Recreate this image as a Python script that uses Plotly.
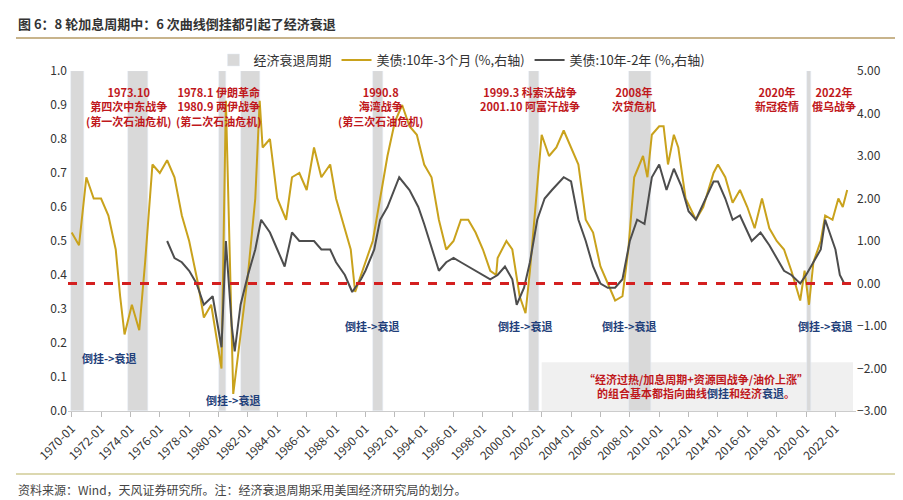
import plotly.graph_objects as go
import pandas as pd

# 10y-3m spread (%), decimal year -> value
t3m = [1970.0,1970.5,1971.0,1971.5,1972.0,1972.5,1973.0,1973.3,1973.6,1974.1,1974.6,1975.0,1975.5,1976.0,1976.5,1977.0,1977.5,1978.0,1978.6,1979.0,1979.5,1980.2,1980.5,1980.9,1981.0,1981.5,1982.0,1982.5,1982.8,1983.0,1983.5,1984.0,1984.6,1985.0,1985.5,1986.0,1986.5,1987.0,1987.6,1988.0,1988.6,1989.0,1989.3,1989.8,1990.0,1990.5,1991.0,1991.5,1992.0,1992.5,1993.0,1993.5,1994.0,1994.5,1995.0,1995.5,1996.0,1996.5,1997.0,1997.5,1998.0,1998.5,1998.9,1999.0,1999.6,2000.0,2000.5,2000.9,2001.2,2001.6,2002.0,2002.5,2003.0,2003.5,2004.0,2004.5,2005.0,2005.5,2006.0,2006.5,2007.0,2007.5,2007.9,2008.3,2008.9,2009.2,2009.5,2010.0,2010.3,2010.6,2011.0,2011.3,2011.8,2012.5,2013.0,2013.7,2014.0,2014.5,2015.0,2015.5,2016.0,2016.5,2017.0,2017.5,2018.0,2018.5,2019.0,2019.6,2019.9,2020.2,2020.5,2021.0,2021.3,2021.8,2022.2,2022.5,2022.8]
v3m = [1.2,0.9,2.5,2.0,2.0,1.6,0.8,-0.3,-1.2,-0.5,-1.1,0.5,2.8,2.6,2.9,2.5,1.6,1.0,0.0,-0.8,-0.5,-2.0,4.3,-1.5,-2.6,-1.2,0.2,2.0,4.3,3.2,3.4,2.0,1.5,2.5,2.6,2.2,3.2,2.5,2.8,2.0,1.3,0.8,-0.2,0.3,0.5,1.0,2.0,3.0,3.8,4.2,3.7,3.5,2.8,2.5,1.5,0.8,1.0,1.5,1.5,1.2,0.8,0.3,0.2,0.6,1.0,0.8,-0.3,-0.7,0.3,2.0,3.5,3.0,3.2,3.6,3.2,2.8,1.5,1.2,0.4,0.0,-0.4,-0.3,0.8,2.5,3.0,2.5,3.5,3.7,3.7,2.8,3.5,3.2,2.0,1.5,1.8,2.6,2.8,2.5,1.9,2.2,1.8,1.3,2.0,1.3,1.0,0.8,0.3,-0.4,0.3,-0.5,0.5,1.0,1.6,1.5,2.0,1.8,2.2]

# 10y-2y spread (%)
t2y = [1976.5,1977.0,1977.5,1978.0,1978.5,1979.0,1979.6,1980.2,1980.5,1980.9,1981.1,1981.5,1982.0,1982.5,1982.9,1983.5,1984.0,1984.5,1985.0,1985.5,1986.5,1987.0,1987.6,1988.0,1988.6,1989.1,1989.7,1990.0,1990.6,1991.0,1991.5,1992.3,1993.0,1993.6,1994.0,1994.7,1995.0,1995.5,1996.0,1996.5,1997.0,1997.5,1998.0,1998.5,1999.0,1999.5,2000.0,2000.3,2000.8,2001.2,2001.7,2002.2,2002.7,2003.5,2004.0,2004.5,2005.0,2005.5,2006.0,2006.5,2007.0,2007.5,2008.0,2008.5,2009.0,2009.5,2010.0,2010.5,2011.0,2011.5,2012.0,2012.5,2013.7,2014.0,2014.5,2015.0,2015.5,2016.3,2016.9,2017.5,2018.0,2018.5,2019.0,2019.6,2020.0,2020.5,2021.0,2021.3,2021.8,2022.0,2022.3,2022.6]
v2y = [1.0,0.6,0.5,0.3,0.0,-0.5,-0.3,-1.5,1.0,-1.0,-1.6,-0.5,0.2,0.8,1.5,1.2,0.8,0.4,1.2,1.0,1.0,0.8,0.8,0.5,0.2,-0.2,0.1,0.3,0.8,1.5,1.8,2.5,2.2,1.8,1.4,0.6,0.3,0.5,0.6,0.5,0.4,0.3,0.2,0.1,0.2,0.4,0.1,-0.5,-0.1,0.5,1.5,2.0,2.2,2.5,2.4,1.5,1.0,0.4,0.0,-0.1,-0.1,0.1,1.0,1.5,1.4,2.5,2.8,2.2,2.7,2.3,1.7,1.5,2.4,2.4,2.0,1.5,1.6,1.0,1.2,0.9,0.6,0.3,0.2,0.0,0.2,0.5,0.8,1.5,1.0,0.8,0.2,0.0]

rec_start = [1969.92,1973.83,1980.0,1981.5,1990.5,2001.17,2007.92,2020.08]
rec_end   = [1970.83,1975.17,1980.5,1982.83,1991.17,2001.83,2009.42,2020.33]

tick_years = list(range(1970, 2023, 2))
xticklabels = [f"{y}-01" for y in tick_years]

W, H = 903, 500
ML, MR, MT, MB = 60, 55, 63, 97
PW, PH = W - ML - MR, H - MT - MB
def px(x): return (x - ML) / PW
def py(y): return (H - MB - y) / PH

def dd(d): return pd.Timestamp(1970,1,1) + pd.Timedelta(days=(d-1970)*365.25)

xticks = [pd.Timestamp(y,1,1) for y in tick_years]
centers, widths = [], []
for s, e in zip(rec_start, rec_end):
    a, b = dd(s), dd(e)
    centers.append(a + (b - a) / 2); widths.append((b - a).total_seconds() * 1000)

fig = go.Figure()
fig.add_trace(go.Bar(x=centers, y=[1.0]*len(centers), width=widths, marker_color="#d9d9d9",
                     name="经济衰退周期", yaxis="y"))
fig.add_trace(go.Scatter(x=[dd(t) for t in t3m], y=v3m, mode="lines", line=dict(color="#c9a21c", width=2),
                         name="美债:10年-3个月 (%,右轴)", yaxis="y2"))
fig.add_trace(go.Scatter(x=[dd(t) for t in t2y], y=v2y, mode="lines", line=dict(color="#4d4d4d", width=2),
                         name="美债:10年-2年 (%,右轴)", yaxis="y2"))

fig.add_shape(type="line", xref="paper", x0=0, x1=1, yref="y2", y0=0, y1=0,
              line=dict(color="#d42020", width=3, dash="dash"))

red = "#c0181c"; navy = "#1f3f7a"
top = [(1973.9, "1973.10<br>第四次中东战争<br>(第一次石油危机)"), (1980.0, "1978.1 伊朗革命<br>1980.9 两伊战争<br>(第二次石油危机)"),
       (1991.0, "1990.8<br>海湾战争<br>(第三次石油危机)"), (2001.2, "1999.3 科索沃战争<br>2001.10 阿富汗战争"),
       (2008.3, "2008年<br>次贷危机"), (2018.0, "2020年<br>新冠疫情"), (2021.9, "2022年<br>俄乌战争")]
for x, t in top:
    fig.add_annotation(x=dd(x), y=4.75, xref="x", yref="y2", text=f"<b>{t}</b>", showarrow=False,
                       font=dict(color=red, size=11), yanchor="top", align="center")
for x, y in [(1972.6, -1.75), (1981.0, -2.75), (1990.5, -1.0), (2000.9, -1.0), (2008.0, -1.0), (2021.3, -1.0)]:
    fig.add_annotation(x=dd(x), y=y, xref="x", yref="y2", text="<b>倒挂->衰退</b>", showarrow=False,
                       font=dict(color=navy, size=11))
fig.add_shape(type="rect", xref="x", yref="y2", x0=dd(2002.0), x1=dd(2023.2), y0=-3.0, y1=-1.85,
              fillcolor="#f0f0f0", line_width=0, layer="below")
fig.add_annotation(x=dd(2012.5), y=-2.42, xref="x", yref="y2", showarrow=False, align="center",
                   text="<b>“经济过热/加息周期+资源国战争/油价上涨”<br>的组合基本都指向曲线<span style='color:#1f3f7a'>倒挂</span>和经济<span style='color:#1f3f7a'>衰退</span>。</b>",
                   font=dict(color=red, size=11))

fig.add_annotation(x=px(8), y=py(15), xref="paper", yref="paper", xanchor="left", yanchor="middle",
                   text="<b>图 6：8 轮加息周期中：6 次曲线倒挂都引起了经济衰退</b>", showarrow=False,
                   font=dict(size=13, color="#333"))
fig.add_shape(type="line", xref="paper", yref="paper", x0=px(8), x1=px(895), y0=py(30), y1=py(30),
              line=dict(color="#c8b48c", width=2))
fig.add_shape(type="line", xref="paper", yref="paper", x0=px(8), x1=px(895), y0=py(466), y1=py(466),
              line=dict(color="#dcd8b0", width=2))
fig.add_annotation(x=px(8), y=py(481), xref="paper", yref="paper", xanchor="left", yanchor="middle",
                   text="资料来源：Wind，天风证券研究所。注：经济衰退周期采用美国经济研究局的划分。", showarrow=False,
                   font=dict(size=12, color="#444"))

fig.update_layout(
    width=W, height=H, paper_bgcolor="white", plot_bgcolor="white",
    font=dict(family="Noto Sans CJK SC", size=12, color="#333"),
    margin=dict(l=ML, r=MR, t=MT, b=MB, autoexpand=False), bargap=0,
    xaxis=dict(type="date", range=[dd(1969.75), dd(2023.4)],
               tickvals=xticks, ticktext=xticklabels, tickangle=-45, ticks="outside",
               tickcolor="#bbb", showgrid=False, showline=True, linecolor="#ccc", automargin=False),
    yaxis=dict(range=[0, 1.0], dtick=0.1, tickformat=".1f",
               showgrid=False, zeroline=False, ticks="", automargin=False),
    yaxis2=dict(overlaying="y", side="right", range=[-3, 5], dtick=1, tickformat=".2f",
                showgrid=False, zeroline=False, automargin=False),
    legend=dict(orientation="h", x=0.5, xanchor="center", y=py(52), yanchor="middle",
                font=dict(size=13), bgcolor="rgba(0,0,0,0)"),
    showlegend=True,
)
fig.write_html("out.html")
